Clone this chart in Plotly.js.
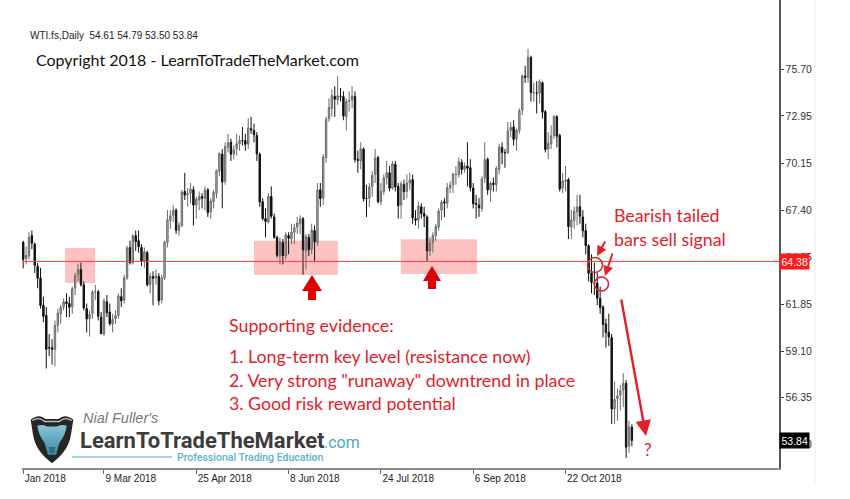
<!DOCTYPE html>
<html>
<head>
<meta charset="utf-8">
<script src="https://cdn.plot.ly/plotly-3.0.1.min.js"></script>
<style>
  html, body { margin: 0; padding: 0; background: #ffffff; }
  #chart { width: 850px; height: 499px; }
</style>
</head>
<body>
<div id="chart"></div>
<script>
// ---------- DATA ----------
// Trading days (month, day numbers) for the daily bars shown
const tradingDays = [
  ['2018-01', [30, 31]],
  ['2018-02', [1, 2, 5, 6, 7, 8, 9, 12, 13, 14, 15, 16, 19, 20, 21, 22, 23, 26, 27, 28]],
  ['2018-03', [1, 2, 5, 6, 7, 8, 9, 12, 13, 14, 15, 16, 19, 20, 21, 22, 23, 26, 27, 28, 29]],
  ['2018-04', [2, 3, 4, 5, 6, 9, 10, 11, 12, 13, 16, 17, 18, 19, 20, 23, 24, 25, 26, 27, 30]],
  ['2018-05', [1, 2, 3, 4, 7, 8, 9, 10, 11, 14, 15, 16, 17, 18, 21, 22, 23, 24, 25, 28, 29, 30, 31]],
  ['2018-06', [1, 4, 5, 6, 7, 8, 11, 12, 13, 14, 15, 18, 19, 20, 21, 22, 25, 26, 27, 28, 29]],
  ['2018-07', [2, 3, 4, 5, 6, 9, 10, 11, 12, 13, 16, 17, 18, 19, 20, 23, 24, 25, 26, 27, 30, 31]],
  ['2018-08', [1, 2, 3, 6, 7, 8, 9, 10, 13, 14, 15, 16, 17, 20, 21, 22, 23, 24, 27, 28, 29, 30, 31]],
  ['2018-09', [3, 4, 5, 6, 7, 10, 11, 12, 13, 14, 17, 18, 19, 20, 21, 24, 25, 26, 27, 28]],
  ['2018-10', [1, 2, 3, 4, 5, 8, 9, 10, 11, 12, 15, 16, 17, 18, 19, 22, 23, 24, 25, 26, 29, 30, 31]],
  ['2018-11', [1, 2, 5, 6, 7, 8, 9, 12, 13, 14, 15, 16, 19, 20, 21, 22]]
];

const openPx = [
  65.50, 64.55,
  64.70, 65.90, 65.40, 64.10, 63.40, 61.80, 61.20, 59.30, 59.30, 59.20, 60.60, 61.30, 61.70, 62.00, 61.90, 61.70, 62.80, 63.60, 63.90, 63.00,
  61.60, 61.00, 61.30, 62.60, 62.60, 61.10, 60.10, 62.00, 61.40, 60.70, 61.00, 61.20, 62.30, 62.10, 63.40, 65.20, 64.30, 65.90, 65.60, 65.20, 64.40,
  64.90, 63.00, 63.50, 63.40, 63.50, 62.10, 63.40, 65.50, 66.80, 67.10, 67.40, 66.20, 66.50, 68.50, 68.30, 68.40, 68.60, 67.70, 68.00, 68.20, 68.10,
  68.60, 67.30, 67.90, 68.40, 69.70, 70.70, 69.10, 71.10, 71.40, 70.70, 71.00, 71.30, 71.50, 71.50, 71.30, 72.20, 72.10, 71.80, 70.70, 67.90, 66.90, 66.70, 68.20,
  67.00, 65.80, 64.70, 65.50, 64.70, 65.90, 65.70, 66.10, 66.40, 66.60, 66.90, 65.00, 65.80, 65.10, 66.20, 65.50, 68.60, 68.10, 70.50, 72.80, 73.40,
  74.10, 73.90, 74.10, 74.10, 72.90, 73.80, 73.90, 74.10, 70.40, 70.30, 71.00, 68.10, 68.10, 68.80, 69.50, 70.50, 67.90, 68.50, 69.30, 69.60, 68.70, 70.10,
  68.80, 67.70, 68.90, 68.50, 69.00, 69.20, 66.90, 66.80, 67.60, 67.20, 67.00, 65.00, 65.50, 65.90, 66.40, 67.40, 67.90, 67.80, 68.70, 68.90, 69.50, 69.50, 70.20,
  69.80, 70.00, 69.90, 68.70, 67.80, 67.70, 67.50, 69.30, 70.40, 68.60, 69.00, 68.90, 69.80, 71.10, 70.80, 70.80, 72.10, 72.30, 71.60, 72.10,
  73.30, 75.30, 75.20, 76.40, 74.30, 74.30, 74.30, 74.90, 73.20, 71.00, 71.30, 71.80, 72.90, 71.80, 68.70, 69.10, 69.20, 66.40, 66.80, 67.30, 67.60, 67.00, 66.20,
  65.30, 63.70, 63.10, 63.10, 62.20, 61.70, 60.70, 60.20, 59.90, 55.70, 56.30, 56.50, 56.80, 57.20, 53.50, 54.61
];

const highPx = [
  65.60, 65.25,
  66.10, 66.20, 65.50, 64.30, 64.00, 62.30, 61.70, 60.10, 59.80, 60.90, 61.60, 61.80, 62.20, 62.50, 62.30, 62.90, 63.70, 64.25, 64.30, 63.20,
  61.90, 61.50, 62.70, 63.00, 62.70, 61.40, 62.20, 62.40, 61.90, 61.30, 61.50, 62.50, 62.80, 63.60, 65.30, 65.60, 66.00, 66.20, 66.20, 65.40, 65.20,
  65.00, 63.70, 63.80, 63.90, 63.70, 63.60, 65.60, 67.40, 67.40, 67.70, 67.50, 66.70, 68.60, 69.60, 68.70, 69.00, 68.80, 68.20, 68.50, 68.40, 68.80,
  68.70, 68.10, 68.60, 69.80, 70.80, 71.00, 71.40, 71.90, 71.60, 71.20, 71.90, 71.80, 72.30, 71.90, 72.80, 72.90, 72.50, 72.00, 70.80, 68.10, 67.50, 68.40, 68.80,
  67.20, 65.90, 65.80, 65.70, 66.10, 66.10, 66.60, 66.60, 67.00, 67.10, 67.00, 66.00, 66.00, 66.60, 66.50, 69.00, 69.00, 70.70, 72.90, 74.00, 74.50,
  74.70, 75.30, 74.60, 74.40, 74.00, 74.40, 74.70, 74.40, 70.90, 71.40, 71.10, 68.90, 69.00, 69.70, 71.00, 70.60, 69.00, 69.50, 70.30, 70.00, 70.30, 70.30,
  69.00, 69.10, 69.20, 69.50, 69.60, 69.50, 67.40, 67.90, 67.80, 67.60, 67.10, 65.80, 66.10, 66.60, 67.50, 68.00, 68.10, 69.00, 69.10, 69.60, 70.00, 70.50, 70.40,
  70.20, 71.40, 70.40, 69.00, 68.30, 68.10, 69.40, 71.40, 70.50, 69.10, 69.30, 70.00, 71.30, 71.40, 71.00, 72.60, 72.60, 72.70, 72.20, 73.40,
  75.40, 75.90, 76.90, 76.50, 74.90, 75.00, 75.10, 75.00, 73.30, 72.00, 72.40, 73.00, 73.00, 71.90, 69.60, 70.00, 69.30, 67.40, 67.60, 68.30, 68.30, 67.40, 66.60,
  65.40, 64.80, 64.30, 63.70, 62.90, 61.80, 61.00, 61.30, 60.10, 57.30, 56.90, 57.10, 57.80, 57.40, 55.00, 54.79
];

const lowPx = [
  63.97, 64.20,
  64.50, 65.10, 63.70, 62.80, 61.60, 60.80, 58.07, 58.80, 58.30, 58.20, 60.20, 60.70, 61.50, 61.10, 61.10, 61.30, 62.40, 63.20, 62.90, 61.50,
  60.20, 59.95, 61.00, 62.10, 60.90, 60.10, 60.00, 61.10, 60.60, 60.20, 60.70, 61.00, 61.70, 61.90, 63.30, 64.20, 64.20, 65.00, 64.90, 64.10, 64.00,
  62.90, 62.50, 61.80, 63.00, 61.80, 61.90, 63.30, 65.20, 66.30, 66.70, 66.00, 65.90, 66.40, 68.00, 67.60, 67.80, 66.50, 66.90, 67.40, 67.50, 67.40,
  67.00, 66.90, 67.50, 68.10, 69.40, 67.50, 68.90, 70.80, 70.30, 70.40, 70.60, 70.90, 71.20, 70.90, 71.00, 71.90, 71.40, 70.30, 67.60, 66.80, 65.80, 66.60, 66.90,
  65.70, 64.60, 64.20, 64.20, 64.50, 64.80, 65.40, 65.40, 66.00, 66.00, 63.60, 63.90, 64.70, 64.80, 64.40, 65.30, 67.60, 67.70, 70.20, 72.60, 72.90,
  72.90, 73.60, 73.80, 72.70, 72.10, 73.20, 73.40, 70.20, 69.60, 69.80, 67.90, 67.00, 67.60, 68.20, 69.00, 67.80, 67.70, 68.30, 68.90, 68.50, 68.60, 68.50,
  66.90, 66.90, 68.00, 68.10, 68.60, 66.60, 66.50, 66.30, 66.90, 66.40, 64.40, 64.70, 64.90, 65.60, 66.20, 66.80, 67.00, 67.50, 68.40, 68.40, 68.90, 69.30, 69.50,
  69.60, 68.80, 68.50, 67.50, 66.90, 67.00, 67.30, 69.00, 68.30, 67.90, 68.50, 68.50, 69.50, 70.10, 69.90, 70.70, 71.70, 71.20, 70.90, 71.90,
  73.00, 74.90, 74.90, 73.80, 73.80, 73.10, 73.70, 72.80, 70.80, 70.40, 71.00, 71.60, 71.10, 68.50, 68.40, 68.50, 65.70, 65.70, 66.30, 66.50, 66.60, 65.80, 64.80,
  63.20, 62.50, 62.40, 61.80, 61.30, 59.90, 59.30, 59.40, 54.80, 54.80, 55.00, 55.60, 55.80, 52.80, 53.10, 53.50
];

const closePx = [
  64.50, 64.73,
  65.80, 65.45, 64.15, 63.39, 61.79, 61.15, 59.20, 59.29, 59.19, 60.60, 61.34, 61.68, 62.00, 61.90, 61.68, 62.77, 63.55, 63.91, 63.01, 61.64,
  60.99, 61.25, 62.57, 62.60, 61.15, 60.12, 62.04, 61.36, 60.71, 60.96, 61.19, 62.34, 62.06, 63.40, 65.17, 64.30, 65.88, 65.55, 65.25, 64.38, 64.94,
  63.01, 63.51, 63.37, 63.54, 62.06, 63.42, 65.51, 66.82, 67.07, 67.39, 66.22, 66.52, 68.47, 68.29, 68.38, 68.64, 67.70, 68.05, 68.19, 68.10, 68.57,
  67.25, 67.93, 68.43, 69.72, 70.73, 69.06, 71.14, 71.36, 70.70, 70.96, 71.31, 71.49, 71.49, 71.28, 72.24, 72.13, 71.84, 70.71, 67.88, 66.90, 66.73, 68.21, 67.04,
  65.81, 64.75, 65.52, 64.73, 65.95, 65.74, 66.10, 66.36, 66.64, 66.89, 65.06, 65.85, 65.07, 66.22, 65.54, 68.58, 68.08, 70.53, 72.76, 73.45, 74.15,
  73.94, 74.14, 74.10, 72.94, 73.80, 73.85, 74.11, 70.38, 70.33, 71.01, 68.06, 68.08, 68.76, 69.46, 70.46, 67.89, 68.52, 69.30, 69.61, 68.69, 70.13, 68.76,
  67.66, 68.96, 68.49, 69.01, 69.17, 66.94, 66.81, 67.63, 67.20, 67.04, 65.01, 65.46, 65.91, 66.43, 67.35, 67.86, 67.83, 68.72, 68.87, 69.53, 69.51, 70.25, 69.80,
  70.00, 69.87, 68.72, 67.77, 67.75, 67.54, 69.25, 70.37, 68.59, 68.99, 68.91, 69.85, 71.12, 70.80, 70.78, 72.08, 72.28, 71.57, 72.12, 73.25,
  75.30, 75.23, 76.41, 74.33, 74.34, 74.29, 74.96, 73.17, 70.97, 71.34, 71.78, 72.92, 71.75, 68.65, 69.12, 69.17, 66.43, 66.82, 67.33, 67.59, 67.04, 66.18, 65.31,
  63.69, 63.14, 63.10, 62.21, 61.67, 60.67, 60.19, 59.93, 55.69, 56.25, 56.46, 56.76, 57.20, 53.43, 54.63, 53.84
];

const dateTickVals = ['2018-01-30', '2018-03-09', '2018-04-25', '2018-06-08', '2018-07-24', '2018-09-06', '2018-10-22'];
const dateTickText = ['Jan 2018', '9 Mar 2018', '25 Apr 2018', '8 Jun 2018', '24 Jul 2018', '6 Sep 2018', '22 Oct 2018'];
const priceTickVals = [75.70, 72.95, 70.15, 67.40, 64.65, 61.85, 59.10, 56.35, 53.60];
const priceTickText = ['75.70', '72.95', '70.15', '67.40', '64.65', '61.85', '59.10', '56.35', '53.60'];

const keyLevel = 64.38;
const lastPrice = 53.84;
const headerText = 'WTI.fs,Daily\u00a0\u00a054.61 54.79 53.50 53.84';
const copyrightText = 'Copyright 2018 - LearnToTradeTheMarket.com';
const evidenceLines = [
  'Supporting evidence:',
  '1. Long-term key level (resistance now)',
  '2. Very strong "runaway" downtrend in place',
  '3. Good risk reward potential'
];
const signalLines = ['Bearish tailed', 'bars sell signal'];

// ---------- BUILD ----------
const dates = tradingDays.flatMap(([m, ds]) => ds.map(d => m + '-' + String(d).padStart(2, '0')));

// pixel -> paper helpers (plot area: x 22..779, y 0..468)
const PL = 22, PR = 779, PT = 0, PB = 468;
const X = px => (px - PL) / (PR - PL);
const Y = py => (PB - py) / (PB - PT);

const RED = '#e3202a';
const TXT = 'Lato, "Open Sans", sans-serif';

const trace = {
  type: 'candlestick',
  x: dates,
  open: openPx, high: highPx, low: lowPx, close: closePx,
  increasing: { line: { color: '#6a6a6a', width: 1 }, fillcolor: '#b5b5b5' },
  decreasing: { line: { color: '#111111', width: 1 }, fillcolor: '#111111' },
  whiskerwidth: 0,
  hoverinfo: 'skip',
  showlegend: false
};

function blockArrow(cx, tipY, headY, stemY, hw, sw) {
  return 'M ' + X(cx) + ',' + Y(tipY) +
    ' L ' + X(cx + hw) + ',' + Y(headY) +
    ' L ' + X(cx + sw) + ',' + Y(headY) +
    ' L ' + X(cx + sw) + ',' + Y(stemY) +
    ' L ' + X(cx - sw) + ',' + Y(stemY) +
    ' L ' + X(cx - sw) + ',' + Y(headY) +
    ' L ' + X(cx - hw) + ',' + Y(headY) + ' Z';
}

const pink = '#ffc2c2';
const shapes = [
  // highlight zones at the key level
  { type: 'rect', xref: 'x', yref: 'y', x0: 14.5, x1: 24.9, y0: 63.11, y1: 65.17, fillcolor: pink, line: { width: 0 }, layer: 'below' },
  { type: 'rect', xref: 'x', yref: 'y', x0: 80, x1: 109.1, y0: 63.58, y1: 65.60, fillcolor: pink, line: { width: 0 }, layer: 'below' },
  { type: 'rect', xref: 'x', yref: 'y', x0: 130.9, x1: 157.3, y0: 63.64, y1: 65.68, fillcolor: pink, line: { width: 0 }, layer: 'below' },
  // key level line
  { type: 'line', xref: 'paper', yref: 'y', x0: 0, x1: 1, y0: keyLevel, y1: keyLevel, line: { color: '#ff3b3b', width: 1 } },
  // block arrows
  { type: 'path', xref: 'paper', yref: 'paper', path: blockArrow(312, 275, 291, 300, 10, 4), fillcolor: '#dd0000', line: { width: 0 } },
  { type: 'path', xref: 'paper', yref: 'paper', path: blockArrow(432, 266, 281, 289, 9, 4), fillcolor: '#dd0000', line: { width: 0 } },
  // circles around the signal bars
  { type: 'circle', xref: 'paper', yref: 'paper', x0: X(587.5), x1: X(602.5), y0: Y(272.5), y1: Y(257.5), line: { color: RED, width: 1.6 } },
  { type: 'circle', xref: 'paper', yref: 'paper', x0: X(594.5), x1: X(608.5), y0: Y(291), y1: Y(277), line: { color: RED, width: 1.6 } },
  // faint outer frame line
  { type: 'line', xref: 'paper', yref: 'paper', x0: X(815), x1: X(815), y0: Y(486), y1: 1, line: { color: '#ececec', width: 1 } },
  // logo underline
  { type: 'line', xref: 'paper', yref: 'paper', x0: X(72), x1: X(172), y0: Y(457), y1: Y(457), line: { color: '#9fd3e6', width: 2 } }
];

function txt(text, px, py, size, color, extra) {
  return Object.assign({
    text: text, xref: 'paper', yref: 'paper', x: X(px), y: Y(py),
    xanchor: 'left', yanchor: 'middle', showarrow: false,
    font: { family: TXT, size: size, color: color }
  }, extra || {});
}

const annotations = [
  txt(headerText, 28, 36, 10, '#222', { font: { family: 'Liberation Sans, Arial, sans-serif', size: 10, color: '#222' } }),
  txt(copyrightText, 34, 60, 16, '#111'),
  txt(evidenceLines[0], 227, 325, 17.8, RED),
  txt(evidenceLines[1], 227, 356, 17.8, RED),
  txt(evidenceLines[2], 227, 380, 17.8, RED),
  txt(evidenceLines[3], 227, 403, 17.8, RED),
  txt(signalLines[0], 612, 215, 17.8, RED),
  txt(signalLines[1], 612, 239, 17.8, RED),
  txt('?', 642, 449, 17, RED),
  // logo text
  txt("Nial Fuller's", 82, 418, 14.5, '#777777', { font: { family: 'Liberation Sans, Arial, sans-serif', size: 14.5, color: '#777777', style: 'italic' }, borderpad: 0 }),
  txt('LearnToTradeTheMarket', 79, 440, 22, '#3c3c3c', { font: { family: 'Roboto, sans-serif', size: 22, color: '#3c3c3c', weight: 700 }, borderpad: 0 }),
  txt('.com', 322, 442, 16, '#4aa6c9', { font: { family: 'Roboto, sans-serif', size: 16, color: '#4aa6c9' } }),
  txt('Professional Trading Education', 176, 457, 10.5, '#5ab0d2', { font: { family: 'Roboto, sans-serif', size: 10.5, color: '#5ab0d2', weight: 500 }, borderpad: 0 }),
  // price labels on the axis
  { text: keyLevel.toFixed(2), xref: 'paper', yref: 'y', x: 1, y: keyLevel, xanchor: 'left', yanchor: 'middle',
    showarrow: false, bgcolor: '#ff1a1a', borderpad: 1.5,
    font: { family: 'Liberation Sans, Arial, sans-serif', size: 10.5, color: '#ffffff' } },
  { text: lastPrice.toFixed(2), xref: 'paper', yref: 'y', x: 1, y: lastPrice, xanchor: 'left', yanchor: 'middle',
    showarrow: false, bgcolor: '#000000', borderpad: 1.5,
    font: { family: 'Liberation Sans, Arial, sans-serif', size: 10.5, color: '#ffffff' } },
  // arrows
  { text: '', xref: 'paper', yref: 'paper', x: X(597), y: Y(256), ax: 9, ay: -16, showarrow: true,
    arrowhead: 2, arrowsize: 1, arrowwidth: 2, arrowcolor: RED },
  { text: '', xref: 'paper', yref: 'paper', x: X(605), y: Y(276), ax: 8, ay: -24, showarrow: true,
    arrowhead: 2, arrowsize: 1, arrowwidth: 2, arrowcolor: RED },
  { text: '', xref: 'paper', yref: 'paper', x: X(646), y: Y(436), ax: -25, ay: -138, showarrow: true,
    arrowhead: 2, arrowsize: 1.3, arrowwidth: 2.4, arrowcolor: RED }
];

const logoSvg =
  '<svg xmlns="http://www.w3.org/2000/svg" width="56" height="60" viewBox="0 0 56 60">' +
  '<defs><linearGradient id="g" x1="0" y1="0" x2="0" y2="1"><stop offset="0" stop-color="#86c4da"/><stop offset="1" stop-color="#3f8aa8"/></linearGradient></defs>' +
  '<path d="M2 8 Q12 0 20 7 L36 7 Q44 0 54 8 L51 26 Q48 45 28 59 Q8 45 5 26 Z" fill="#262626"/>' +
  '<path d="M4 9 Q12 4 19 10 L37 10 Q44 4 52 9" fill="none" stroke="#bdbdbd" stroke-width="1.5"/>' +
  '<path d="M10 15 Q18 13 22 16 L34 16 Q38 13 46 15 Q44 27 37 35 L33 49 L23 49 L19 35 Q12 27 10 15 Z" fill="url(#g)"/>' +
  '<path d="M24 40 L32 40 L31 47 L25 47 Z" fill="#2f6f88"/>' +
  '</svg>';

const layout = {
  width: 850, height: 499,
  margin: { l: PL, r: 850 - PR, t: PT, b: 499 - PB, pad: 0 },
  paper_bgcolor: '#ffffff', plot_bgcolor: '#ffffff',
  showlegend: false,
  xaxis: {
    type: 'category', range: [-0.42, 262],
    showgrid: false, zeroline: false,
    showline: true, linecolor: '#8c8c8c', linewidth: 2,
    ticks: 'outside', ticklen: 4, tickcolor: '#666',
    tickvals: dateTickVals, ticktext: dateTickText,
    ticklabelposition: 'outside right',
    tickfont: { family: 'Liberation Sans, Arial, sans-serif', size: 10, color: '#222' },
    rangeslider: { visible: false }, fixedrange: true
  },
  yaxis: {
    side: 'right', range: [52.21, 79.78],
    showgrid: false, zeroline: false,
    showline: true, linecolor: '#555', linewidth: 1.5,
    ticks: 'outside', ticklen: 3, tickcolor: '#444',
    tickvals: priceTickVals, ticktext: priceTickText,
    tickfont: { family: 'Liberation Sans, Arial, sans-serif', size: 10.5, color: '#333' },
    fixedrange: true
  },
  shapes: shapes,
  annotations: annotations,
  images: [{
    source: 'data:image/svg+xml;charset=utf-8,' + encodeURIComponent(logoSvg),
    xref: 'paper', yref: 'paper', x: X(29), y: Y(413),
    sizex: 46 / (PR - PL), sizey: 51 / (PB - PT),
    xanchor: 'left', yanchor: 'top', sizing: 'stretch', layer: 'above'
  }]
};

Plotly.newPlot('chart', [trace], layout, { displayModeBar: false, staticPlot: true });
</script>
</body>
</html>
